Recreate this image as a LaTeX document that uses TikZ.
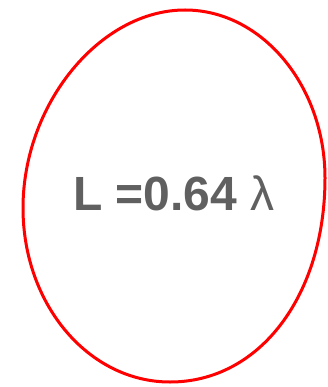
\documentclass[tikz,border=0pt]{standalone}
\usepackage{fontspec}
\setmainfont{Liberation Sans}
\definecolor{txtgray}{HTML}{606060}
\begin{document}
\begin{tikzpicture}[x=1pt,y=-1pt,
  loop/.style={draw=red,line width=3pt,line join=round},
  lbl/.style={text=txtgray,font=\fontsize{48}{50}\selectfont,inner sep=0pt,anchor=base west}]
\useasboundingbox (0,0) rectangle (327,387);
\coordinate (top) at (185,10);
\coordinate (rt) at (325,178);
\coordinate (bot) at (170,382);
\coordinate (lf) at (23,208);
\draw[loop] (top) .. controls (262,10) and (325,86) .. (rt)
  .. controls (325,295) and (260,382) .. (bot)
  .. controls (89,382) and (23,305) .. (lf)
  .. controls (23,104) and (100,10) .. (top) -- cycle;
\node[lbl] (t) at (73,210) {\textbf{L =0.64} λ};
\end{tikzpicture}
\end{document}
